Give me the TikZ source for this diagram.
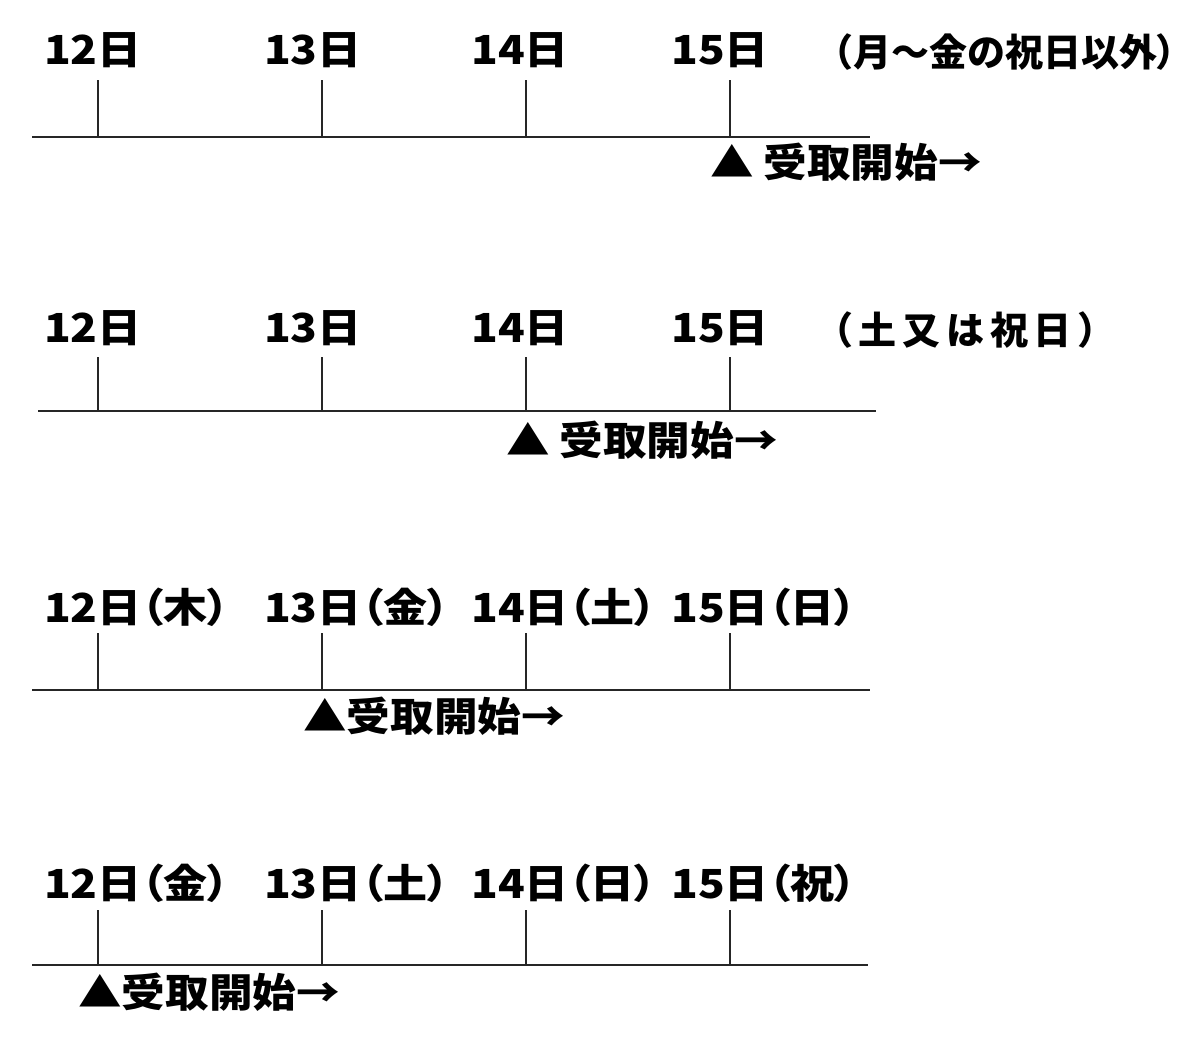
\documentclass[tikz,border=0pt]{standalone}
\usepackage{fontspec}
\setmainfont{Noto Sans CJK JP}
\newfontfamily\jpp{Noto Sans CJK JP}[RawFeature=+palt]
\newcommand{\wx}[1]{\scalebox{1.1}[1]{#1}}
\newcommand{\wa}[1]{\scalebox{1.09}[1]{#1}}
\begin{document}
\begin{tikzpicture}[x=1pt,y=-1pt,
  lbl/.style={anchor=west,inner sep=0pt,font=\fontsize{40}{40}\selectfont\bfseries},
  note/.style={anchor=west,inner sep=0pt,font=\fontsize{38}{38}\selectfont\bfseries},
  ann/.style={anchor=west,inner sep=0pt,font=\fontsize{40}{40}\selectfont\bfseries},
  axis/.style={line width=2.2pt,black!85},
  tick/.style={line width=1.6pt,black!85}]
\useasboundingbox (0,0) rectangle (1200,1058);
% row 1
\node[lbl] (a1) at (44,50) {\wx{12日}};
\node[lbl] (a2) at (264,50) {\wx{13日}};
\node[lbl] (a3) at (471,50) {\wx{14日}};
\node[lbl] (a4) at (671,50) {\wx{15日}};
\node[note] (an) at (815,52) {（月～金の祝日以外{\jpp ）}};
\coordinate (l1s) at (32,137); \coordinate (l1e) at (870,137);
\draw[axis] (l1s) -- (l1e);
\foreach \x/\n in {98/1,322/2,526/3,730/4}{
  \coordinate (t1\n) at (\x,80); \coordinate (b1\n) at (\x,137);
  \draw[tick] (t1\n) -- (b1\n);}
\node[ann] (s1) at (710,162) {\wa{▲ 受取開始→}};
% row 2
\node[lbl] (c1) at (44,328) {\wx{12日}};
\node[lbl] (c2) at (264,328) {\wx{13日}};
\node[lbl] (c3) at (471,328) {\wx{14日}};
\node[lbl] (c4) at (671,328) {\wx{15日}};
\node[note] (cn) at (815,330) {\addfontfeatures{LetterSpace=15}（土又は祝日）};
\coordinate (l2s) at (38,411); \coordinate (l2e) at (876,411);
\draw[axis] (l2s) -- (l2e);
\foreach \x/\n in {98/1,322/2,526/3,730/4}{
  \coordinate (t2\n) at (\x,357); \coordinate (b2\n) at (\x,411);
  \draw[tick] (t2\n) -- (b2\n);}
\node[ann] (s2) at (506,440) {\wa{▲ 受取開始→}};
% row 3
\node[lbl] (e1) at (44,607) {\wx{12日{\jpp（木）}}};
\node[lbl] (e2) at (264,607) {\wx{13日{\jpp（金）}}};
\node[lbl] (e3) at (471,607) {\wx{14日{\jpp（土）}}};
\node[lbl] (e4) at (671,607) {\wx{15日{\jpp（日）}}};
\coordinate (l3s) at (32,690); \coordinate (l3e) at (870,690);
\draw[axis] (l3s) -- (l3e);
\foreach \x/\n in {98/1,322/2,526/3,730/4}{
  \coordinate (t3\n) at (\x,633); \coordinate (b3\n) at (\x,690);
  \draw[tick] (t3\n) -- (b3\n);}
\node[ann] (s3) at (303,716) {\wa{▲受取開始→}};
% row 4
\node[lbl] (g1) at (44,883) {\wx{12日{\jpp（金）}}};
\node[lbl] (g2) at (264,883) {\wx{13日{\jpp（土）}}};
\node[lbl] (g3) at (471,883) {\wx{14日{\jpp（日）}}};
\node[lbl] (g4) at (671,883) {\wx{15日{\jpp（祝）}}};
\coordinate (l4s) at (32,965); \coordinate (l4e) at (868,965);
\draw[axis] (l4s) -- (l4e);
\foreach \x/\n in {98/1,322/2,526/3,730/4}{
  \coordinate (t4\n) at (\x,910); \coordinate (b4\n) at (\x,965);
  \draw[tick] (t4\n) -- (b4\n);}
\node[ann] (s4) at (78,992) {\wa{▲受取開始→}};
\end{tikzpicture}
\end{document}
